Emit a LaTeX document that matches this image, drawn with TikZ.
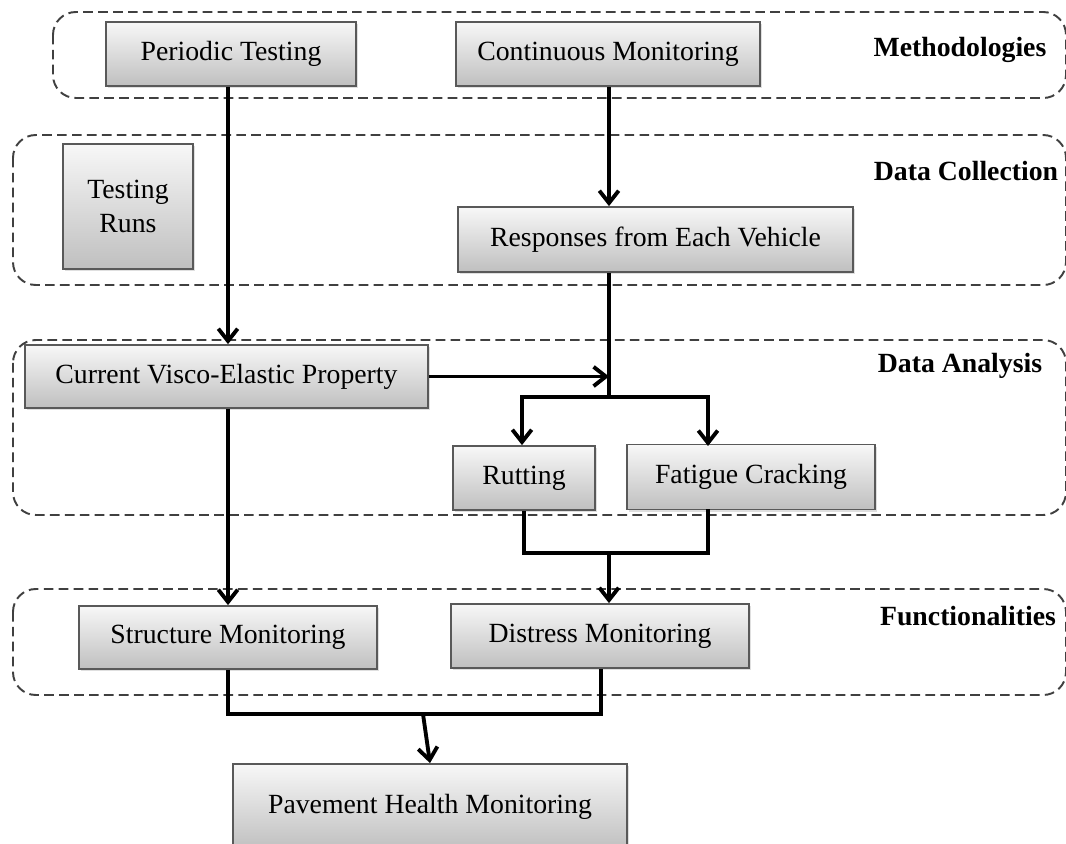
\documentclass[tikz,border=0pt]{standalone}
\usepackage{fontspec}
\setmainfont{Liberation Serif}
\usetikzlibrary{arrows.meta,calc,shadows}

\begin{document}
\begin{tikzpicture}[
		x=0.02cm, y=-0.02cm,
		every node/.style={font=\fontsize{15.8}{19}\selectfont},
		stage box/.style={rectangle, draw=black!65, line width=1pt, top color=black!3, bottom color=black!25,
			drop shadow={opacity=0.25, shadow xshift=1.2pt, shadow yshift=-1.2pt}, align=center, inner sep=2pt},
		group frame/.style={draw=black!75, line width=1.1pt, dash pattern=on 5.5pt off 3pt, rounded corners=13pt},
		group label/.style={font=\fontsize{15.8}{19}\selectfont\bfseries, anchor=center},
		flow/.style={line width=2.2pt, -{Straight Barb[length=7pt, width=11pt, line width=2.2pt]}},
		plain flow/.style={line width=2.2pt}
		]
		
		\useasboundingbox (0,0) rectangle (1066,844);
		
		% dashed stage frames
		\draw[group frame] (53,12) rectangle (1066,98);
		\draw[group frame] (13,135) rectangle (1066,285);
		\draw[group frame] (13,340) rectangle (1066,515);
		\draw[group frame] (13,589) rectangle (1066,695);
		
		\node[group label] (lab meth) at (960,50) {Methodologies};
		\node[group label] (lab coll) at (966,171) {Data Collection};
		\node[group label] (lab anal) at (960,366) {Data Analysis};
		\node[group label] (lab func) at (968,616) {Functionalities};
		
		% boxes
		\node[stage box, minimum width=5.0cm, minimum height=1.28cm] (periodic) at (231,54) {Periodic Testing};
		\node[stage box, minimum width=6.08cm, minimum height=1.28cm] (continuous) at (608,54) {Continuous Monitoring};
		\node[stage box, minimum width=2.6cm, minimum height=2.5cm] (runs) at (128,206.5) {Testing\\Runs};
		\node[stage box, minimum width=7.9cm, minimum height=1.3cm] (responses) at (655.5,239.5) {Responses from Each Vehicle};
		\node[stage box, minimum width=8.06cm, minimum height=1.26cm] (visco) at (226.5,376.5) {Current Visco-Elastic Property};
		\node[stage box, minimum width=2.84cm, minimum height=1.28cm] (rutting) at (524,478) {Rutting};
		\node[stage box, minimum width=4.95cm, minimum height=1.3cm] (fatigue) at (751,477) {Fatigue Cracking};
		\node[stage box, minimum width=5.96cm, minimum height=1.26cm] (structure) at (228,637.5) {Structure Monitoring};
		\node[stage box, minimum width=5.96cm, minimum height=1.28cm] (distress) at (600,636) {Distress Monitoring};
		\node[stage box, minimum width=7.88cm, minimum height=1.72cm] (pavement) at (430,807) {Pavement Health Monitoring};
		
		% helper points
		\coordinate (split) at (609,397);
		\coordinate (fatigue in) at (708,446);
		\coordinate (fatigue out) at (708,509);
		\coordinate (merge) at (609,553);
		\coordinate (health) at (423,714);
		
		% connectors
		\draw[flow] (periodic.south -| 228,0) -- (visco.north -| 228,0);
		\draw[flow] (continuous.south -| 609,0) -- (responses.north -| 609,0);
		\draw[plain flow] (responses.south -| 609,0) -- (split);
		\draw[flow] (visco.east) -- (visco.east -| split);
		\draw[flow] (split) -| (rutting.north -| 522,0);
		\draw[flow] (split) -| (fatigue in);
		\draw[plain flow] (rutting.south) |- (merge) -| (fatigue out);
		\draw[flow] (merge) -- (distress.north -| merge);
		\draw[flow] (visco.south -| 228,0) -- (structure.north -| 228,0);
		\draw[plain flow] (structure.south -| 228,0) |- (health) -| (distress.south -| 601,0);
		\draw[flow] (health) -- (pavement.north);
		
	\end{tikzpicture}
\end{document}
